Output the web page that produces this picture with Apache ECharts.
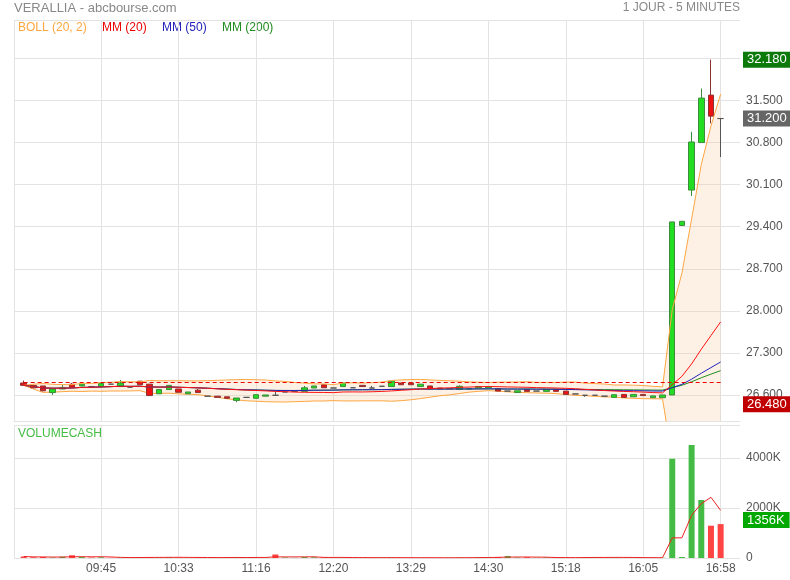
<!DOCTYPE html>
<html><head><meta charset="utf-8">
<script src="https://cdn.jsdelivr.net/npm/echarts@6/dist/echarts.min.js"></script>
<style>html,body{margin:0;padding:0;background:#fff}#c{width:790px;height:580px}</style>
</head><body><div id="c"></div>
<script>
// ---------- DATA ----------
const times = ['09:00','09:05','09:10','09:15','09:20','09:25','09:35','09:40',
'09:45','09:50','09:55','10:00','10:10','10:15','10:20','10:25',
'10:33','10:35','10:40','10:45','10:50','10:55','11:00','11:10',
'11:16','11:25','11:35','11:40','11:45','11:55','12:05','12:10',
'12:20','12:30','12:35','12:45','12:55','13:05','13:10','13:20',
'13:29','13:35','13:45','13:50','13:55','14:05','14:10','14:20',
'14:30','14:35','14:40','14:45','14:50','14:55','15:05','15:10',
'15:18','15:20','15:30','15:35','15:40','15:45','15:50','15:55',
'16:05','16:10','16:15','16:20','16:25','16:30','16:35','16:40',
'16:58'];
const opens = [26.80,26.76,26.75,26.64,26.70,26.78,26.75,26.74,26.74,26.78,
26.74,26.73,26.83,26.78,26.62,26.69,26.70,26.62,26.68,26.58,
26.58,26.57,26.51,26.56,26.545,26.58,26.595,26.65,26.66,26.66,
26.716,26.77,26.716,26.74,26.72,26.76,26.716,26.745,26.74,26.80,
26.80,26.74,26.75,26.716,26.705,26.695,26.70,26.72,26.72,26.705,
26.665,26.64,26.69,26.665,26.66,26.69,26.665,26.617,26.595,26.595,
26.58,26.56,26.61,26.57,26.61,26.555,26.555,26.60,29.42,30.01,
30.80,31.59,31.20];
const closes = [26.76,26.72,26.67,26.70,26.72,26.73,26.78,26.74,26.79,26.78,
26.80,26.73,26.77,26.59,26.69,26.76,26.645,26.65,26.64,26.58,
26.56,26.545,26.55,26.56,26.605,26.60,26.595,26.65,26.66,26.72,
26.75,26.72,26.716,26.80,26.72,26.74,26.716,26.745,26.83,26.77,
26.77,26.78,26.70,26.70,26.705,26.745,26.705,26.74,26.74,26.665,
26.665,26.67,26.66,26.665,26.69,26.66,26.61,26.617,26.595,26.595,
26.58,26.605,26.56,26.61,26.59,26.585,26.60,29.48,29.49,30.81,
31.54,31.24,31.20];
const lows = [26.76,26.71,26.66,26.60,26.70,26.73,26.75,26.74,26.74,26.78,
26.74,26.73,26.77,26.59,26.62,26.69,26.645,26.62,26.64,26.58,
26.56,26.545,26.48,26.56,26.545,26.58,26.595,26.65,26.66,26.66,
26.716,26.72,26.716,26.74,26.72,26.74,26.716,26.745,26.74,26.77,
26.77,26.74,26.70,26.70,26.705,26.695,26.70,26.72,26.72,26.665,
26.665,26.64,26.66,26.665,26.66,26.66,26.61,26.617,26.57,26.595,
26.58,26.56,26.56,26.57,26.59,26.555,26.555,26.60,29.42,29.91,
30.80,31.12,30.56];
const highs = [26.84,26.77,26.75,26.70,26.77,26.80,26.78,26.75,26.79,26.78,
26.85,26.73,26.83,26.78,26.69,26.76,26.70,26.65,26.70,26.58,
26.58,26.57,26.55,26.56,26.605,26.60,26.66,26.65,26.66,26.75,
26.75,26.77,26.716,26.80,26.72,26.76,26.75,26.745,26.83,26.80,
26.80,26.78,26.75,26.716,26.705,26.76,26.705,26.74,26.74,26.705,
26.665,26.67,26.69,26.665,26.69,26.69,26.665,26.617,26.595,26.595,
26.58,26.605,26.61,26.61,26.61,26.585,26.60,29.48,29.49,30.98,
31.70,32.18,31.20];
const mm20 = [26.760,26.740,26.717,26.713,26.714,26.717,26.726,26.728,26.734,26.739,
26.745,26.743,26.745,26.734,26.731,26.733,26.728,26.724,26.719,26.712,
26.702,26.694,26.688,26.681,26.675,26.668,26.659,26.655,26.648,26.645,
26.643,26.642,26.639,26.650,26.651,26.650,26.654,26.659,26.668,26.678,
26.688,26.700,26.707,26.714,26.719,26.727,26.732,26.737,26.741,26.738,
26.734,26.731,26.728,26.722,26.720,26.716,26.711,26.704,26.693,26.684,
26.674,26.666,26.659,26.654,26.648,26.640,26.635,26.772,26.910,27.117,
27.361,27.589,27.816];
const mm50 = [26.760,26.740,26.717,26.713,26.714,26.717,26.726,26.728,26.734,26.739,
26.745,26.743,26.745,26.734,26.731,26.733,26.728,26.724,26.719,26.712,
26.705,26.698,26.691,26.686,26.683,26.679,26.676,26.675,26.675,26.676,
26.679,26.680,26.681,26.685,26.686,26.687,26.688,26.689,26.693,26.695,
26.697,26.699,26.699,26.699,26.699,26.700,26.700,26.701,26.702,26.701,
26.699,26.698,26.698,26.697,26.697,26.695,26.692,26.689,26.685,26.682,
26.677,26.675,26.671,26.671,26.669,26.666,26.665,26.721,26.778,26.863,
26.962,27.056,27.149];
const mm200 = [26.760,26.740,26.717,26.713,26.714,26.717,26.726,26.728,26.734,26.739,
26.745,26.743,26.745,26.734,26.731,26.733,26.728,26.724,26.719,26.712,
26.705,26.698,26.691,26.686,26.683,26.679,26.676,26.675,26.675,26.676,
26.679,26.680,26.681,26.685,26.686,26.687,26.688,26.689,26.693,26.695,
26.697,26.699,26.699,26.699,26.699,26.700,26.700,26.701,26.702,26.701,
26.700,26.700,26.699,26.698,26.698,26.697,26.696,26.695,26.693,26.691,
26.689,26.688,26.686,26.685,26.683,26.682,26.681,26.722,26.762,26.820,
26.886,26.947,27.005];
const bollUpper = [26.760,26.780,26.790,26.778,26.773,26.772,26.793,26.791,26.807,26.812,
26.823,26.819,26.819,26.841,26.837,26.837,26.837,26.835,26.834,26.839,
26.844,26.850,26.856,26.858,26.854,26.849,26.834,26.826,26.808,26.797,
26.785,26.784,26.773,26.798,26.802,26.798,26.805,26.814,26.841,26.851,
26.857,26.859,26.851,26.842,26.837,26.830,26.818,26.813,26.809,26.813,
26.815,26.817,26.820,26.811,26.810,26.809,26.815,26.815,26.797,26.790,
26.782,26.766,26.767,26.763,26.758,26.744,26.736,28.018,28.628,29.528,
30.434,31.075,31.608];
const bollLower = [26.760,26.700,26.643,26.647,26.655,26.662,26.658,26.664,26.662,26.666,
26.666,26.668,26.672,26.627,26.625,26.630,26.619,26.612,26.605,26.585,
26.561,26.537,26.519,26.503,26.496,26.488,26.484,26.483,26.488,26.493,
26.500,26.500,26.506,26.501,26.501,26.502,26.503,26.503,26.496,26.505,
26.520,26.540,26.563,26.587,26.602,26.623,26.647,26.660,26.672,26.663,
26.652,26.645,26.637,26.633,26.630,26.623,26.607,26.594,26.588,26.578,
26.567,26.566,26.550,26.545,26.539,26.537,26.535,25.526,25.191,24.706,
24.287,24.103,24.024];
const volumes = [60,30,40,20,50,110,40,20,30,10,
20,10,30,40,20,30,20,10,30,10,
20,20,30,10,30,20,140,20,10,40,
30,20,10,20,10,20,10,10,20,10,
10,10,10,10,10,20,10,30,30,40,
80,20,30,10,20,20,10,10,30,40,
20,20,10,20,10,10,10,3970,40,4520,
2320,1292,1356];
const volumeMA5 = [60,45,43,38,40,50,52,48,50,42,
24,18,20,22,24,26,28,24,22,20,
18,18,22,18,22,22,46,44,44,46,
48,24,22,24,18,16,14,14,14,14,
12,12,12,10,10,12,12,16,20,26,
38,40,40,36,32,20,18,14,18,22,
22,24,24,22,16,14,12,804,808,1710,
2172,2428,1906];
const priceTicks = [26.6,27.3,28.0,28.7,29.4,30.1,30.8,31.5,32.2];
const volumeTicks = [0,2000,4000];
const prevClose = 26.82;
const dayHigh = 32.18, lastPrice = 31.20, dayLow = 26.48, lastVolume = 1356;

// ---------- BUILD ----------
const N = times.length;
const cats = [''].concat(times, ['', '']);
const pad = a => ['-'].concat(a, ['-', '-']);
const emptyC = ['-','-','-','-'];
const candleData = [emptyC].concat(times.map((t,i)=>[opens[i],closes[i],lows[i],highs[i]]), [emptyC, emptyC]);
const volData = ['-'].concat(volumes.map((v,i)=>{
  const up = closes[i] > opens[i] || (closes[i] === opens[i] && (i === 0 || closes[i] >= closes[i-1]));
  return {value: v, itemStyle: {color: up ? '#44bb44' : '#ff4444'}};
}), ['-','-']);
const bandDiff = bollUpper.map((u,i)=>+(u - bollLower[i]).toFixed(3));

const isTickCat = idx => { const r = idx - 1; return r >= 8 && r <= N - 1 && r % 8 === 0; };
const splitFn = idx => idx === 0 || isTickCat(idx);
const FONT = 'Liberation Sans, Arial, sans-serif';
const gridColor = '#e3e3e3';
const ORANGE = '#ffa640';

const boxLabel = (txt, bg, off) => ({
  show: true, position: 'end', distance: 3, formatter: txt,
  color: '#fff', backgroundColor: bg, fontSize: 13, fontFamily: FONT,
  padding: [2, 5, 1, 4], offset: off || [0, 0]
});
const clearLine = {color: 'rgba(0,0,0,0)', width: 1, type: 'solid'};

const chart = echarts.init(document.getElementById('c'));
chart.setOption({
  animation: false,
  textStyle: {fontFamily: FONT},
  grid: [
    {left: 14, right: 50, top: 20, bottom: 159},
    {left: 14, right: 50, top: 425, bottom: 22}
  ],
  xAxis: [
    {gridIndex: 0, type: 'category', data: cats, boundaryGap: false,
     axisLine: {show: true, lineStyle: {color: gridColor}}, axisTick: {show: false},
     axisLabel: {show: false},
     splitLine: {show: true, interval: splitFn, lineStyle: {color: gridColor}}},
    {gridIndex: 1, type: 'category', data: cats, boundaryGap: false,
     axisLine: {show: false}, axisTick: {show: false},
     axisLabel: {show: true, interval: isTickCat, color: '#555', fontSize: 12, margin: 5},
     splitLine: {show: true, interval: splitFn, lineStyle: {color: gridColor}}}
  ],
  yAxis: [
    {gridIndex: 0, type: 'value', position: 'right', min: 26.167, max: 32.84,
     axisLine: {show: false},
     axisTick: {show: false, customValues: priceTicks.concat([32.84])},
     axisLabel: {customValues: priceTicks, formatter: v => v.toFixed(3), color: '#555', fontSize: 12, margin: 6},
     splitLine: {show: true, lineStyle: {color: gridColor}}},
    {gridIndex: 1, type: 'value', position: 'right', min: 0, max: 5320,
     axisLine: {show: false},
     axisTick: {show: false, customValues: volumeTicks.concat([5320])},
     axisLabel: {customValues: volumeTicks, formatter: v => v === 0 ? '0' : v + 'K', color: '#555', fontSize: 12, margin: 6},
     splitLine: {show: true, lineStyle: {color: gridColor}}}
  ],
  series: [
    {name: 'bollLow', type: 'line', xAxisIndex: 0, yAxisIndex: 0, data: pad(bollLower),
     stack: 'boll', symbol: 'none', silent: true, z: 1, clip: true,
     lineStyle: {color: ORANGE, width: 1}},
    {name: 'bollBand', type: 'line', xAxisIndex: 0, yAxisIndex: 0, data: pad(bandDiff),
     stack: 'boll', symbol: 'none', silent: true, z: 1, clip: true,
     lineStyle: {width: 0, opacity: 0},
     areaStyle: {color: 'rgba(248,200,150,0.36)', origin: 'start'}},
    {name: 'candles', type: 'candlestick', xAxisIndex: 0, yAxisIndex: 0, data: candleData,
     barWidth: 6, z: 3,
     itemStyle: {color: '#22dd22', color0: '#ee1111', borderColor: '#3c8c3c', borderColor0: '#8c3434',
                 borderColorDoji: '#555', borderWidth: 1},
     markLine: {
       silent: true, symbol: ['none', 'none'], label: {show: false}, z: 6,
       data: [
         [{coord: [1, prevClose], lineStyle: {type: [4, 3], color: '#ee0000', width: 1}},
          {coord: [N, prevClose]}]
       ]
     }},
    {name: 'priceBoxes', type: 'line', xAxisIndex: 0, yAxisIndex: 0, data: [],
     symbol: 'none', silent: true, z: 8,
     markLine: {
       silent: true, symbol: ['none', 'none'], z: 8,
       lineStyle: clearLine,
       data: [
         {yAxis: dayHigh, label: boxLabel('32.180', '#0b7a0b')},
         {yAxis: lastPrice, label: boxLabel('31.200', '#666666')},
         {yAxis: dayLow, label: boxLabel('26.480', '#c00000', [0, 2])}
       ]
     }},
    {name: 'bollUp', type: 'line', xAxisIndex: 0, yAxisIndex: 0, data: pad(bollUpper),
     symbol: 'none', silent: true, z: 4, lineStyle: {color: ORANGE, width: 1}},
    {name: 'MM200', type: 'line', xAxisIndex: 0, yAxisIndex: 0, data: pad(mm200),
     symbol: 'none', silent: true, z: 4, lineStyle: {color: '#1e8c1e', width: 1}},
    {name: 'MM50', type: 'line', xAxisIndex: 0, yAxisIndex: 0, data: pad(mm50),
     symbol: 'none', silent: true, z: 4, lineStyle: {color: '#2222bb', width: 1}},
    {name: 'MM20', type: 'line', xAxisIndex: 0, yAxisIndex: 0, data: pad(mm20),
     symbol: 'none', silent: true, z: 4, lineStyle: {color: '#ff1111', width: 1}},
    {name: 'volume', type: 'bar', xAxisIndex: 1, yAxisIndex: 1, data: volData, barWidth: 6, z: 3},
    {name: 'volBox', type: 'line', xAxisIndex: 1, yAxisIndex: 1, data: [],
     symbol: 'none', silent: true, z: 8,
     markLine: {
       silent: true, symbol: ['none', 'none'], z: 8, lineStyle: clearLine,
       data: [{yAxis: lastVolume, label: boxLabel('1356K', '#00a800', [0, -4])}]
     }},
    {name: 'volMA', type: 'line', xAxisIndex: 1, yAxisIndex: 1, data: pad(volumeMA5),
     symbol: 'none', silent: true, z: 4, lineStyle: {color: '#ee2222', width: 1}}
  ],
  graphic: [
    {type: 'text', left: 14, top: 2, style: {text: 'VERALLIA - abcbourse.com', fill: '#888', font: '13px ' + FONT}},
    {type: 'text', right: 50, top: 2, style: {text: '1 JOUR - 5 MINUTES', fill: '#888', font: '12px ' + FONT}},
    {type: 'text', left: 18, top: 22, style: {text: 'BOLL (20, 2)', fill: ORANGE, font: '12px ' + FONT}},
    {type: 'text', left: 102, top: 22, style: {text: 'MM (20)', fill: '#ee0000', font: '12px ' + FONT}},
    {type: 'text', left: 162, top: 22, style: {text: 'MM (50)', fill: '#2222bb', font: '12px ' + FONT}},
    {type: 'text', left: 222, top: 22, style: {text: 'MM (200)', fill: '#1e8c1e', font: '12px ' + FONT}},
    {type: 'text', left: 18, top: 428, style: {text: 'VOLUMECASH', fill: '#44bb44', font: '12px ' + FONT}}
  ]
});
</script>
</body></html>
